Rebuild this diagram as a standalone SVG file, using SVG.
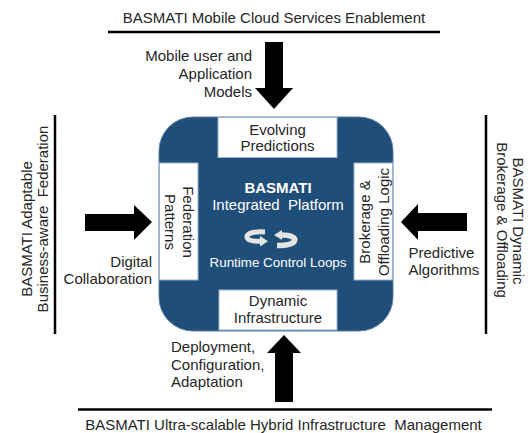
<svg xmlns="http://www.w3.org/2000/svg" width="531" height="433" viewBox="0 0 531 433">
<style>
  .t { font-family: "Liberation Sans", Arial, sans-serif; font-size: 15px; fill: #262626; }
  .w { font-family: "Liberation Sans", Arial, sans-serif; fill: #ffffff; }
  .box { fill: #ffffff; stroke: #9db3cc; stroke-width: 1; }
  .line { stroke: #000000; stroke-width: 2.5; fill: none; }
  .arrow { fill: #000000; }
  .loop { fill: none; stroke: #e4e4e4; stroke-linecap: butt; }
  .loophead { fill: #e4e4e4; }
</style>
<rect width="531" height="433" fill="#ffffff"/>

<g id="connectors">
  <line class="line" x1="108" y1="32" x2="440" y2="32"/>
  <line class="line" x1="78" y1="409.5" x2="492" y2="409.5"/>
  <line class="line" x1="55" y1="115" x2="55" y2="334"/>
  <line class="line" x1="486" y1="115" x2="486" y2="334"/>
  <polygon class="arrow" points="265,42 283,42 283,88 293,88 274,109 255,88 265,88"/>
  <polygon class="arrow" points="275,402 293,402 293,353 301,353 284,335 267,353 275,353"/>
  <polygon class="arrow" points="85,214 134,214 134,205 152,222 134,240 134,231 85,231"/>
  <polygon class="arrow" points="467,213 418,213 418,204 401,222 418,240 418,231 467,231"/>
</g>

<g id="platform">
  <rect x="159" y="117" width="234" height="214" rx="34" ry="34" fill="#1f4e79" stroke="#5a7ca3" stroke-width="1"/>
  <text class="w" x="278" y="193" text-anchor="middle" font-size="15" font-weight="bold" fill="#eeeeee">BASMATI</text>
  <text class="w" x="278" y="210" text-anchor="middle" font-size="15" fill="#dfe5ee" xml:space="preserve">Integrated  Platform</text>
  <text class="w" x="278" y="267" text-anchor="middle" font-size="13.4" fill="#e8ecf2">Runtime Control Loops</text>
  <g id="loops">
    <path class="loop" stroke-width="5" d="M 265 232 C 251 231, 245 234.5, 247.5 238.5 C 249.5 241, 254 241.5, 261 241.3"/>
    <polygon class="loophead" points="260,236 268,241.3 260,246.5"/>
    <path class="loop" stroke-width="5.5" d="M 281 235 C 291 235, 296 237.5, 294.5 241 C 293 244, 287 245.5, 277 245.5"/>
    <polygon class="loophead" points="282,230 274,235 282,240"/>
  </g>
</g>

<g id="evolving-predictions">
  <rect class="box" x="218" y="117.5" width="119" height="40"/>
  <text class="t" x="277.5" y="135" text-anchor="middle">Evolving</text>
  <text class="t" x="277.5" y="151" text-anchor="middle">Predictions</text>
</g>

<g id="dynamic-infrastructure">
  <rect class="box" x="219" y="290" width="118" height="40"/>
  <text class="t" x="278" y="306" text-anchor="middle">Dynamic</text>
  <text class="t" x="278" y="323" text-anchor="middle">Infrastructure</text>
</g>

<g id="federation-patterns">
  <rect class="box" x="159.5" y="163" width="38.5" height="117"/>
  <text class="t" text-anchor="middle" transform="translate(182.5,222) rotate(90)">Federation</text>
  <text class="t" text-anchor="middle" transform="translate(164.5,222) rotate(90)">Patterns</text>
</g>

<g id="brokerage-offloading">
  <rect class="box" x="354" y="163" width="38.5" height="117"/>
  <text class="t" text-anchor="middle" transform="translate(369.5,222) rotate(-90)">Brokerage &amp;</text>
  <text class="t" text-anchor="middle" transform="translate(388.5,222) rotate(-90)">Offloading Logic</text>
</g>

<g id="mobile-cloud-services">
  <text class="t" x="274" y="23" text-anchor="middle">BASMATI Mobile Cloud Services Enablement</text>
</g>

<g id="hybrid-infrastructure">
  <text class="t" x="283.5" y="430" text-anchor="middle" xml:space="preserve">BASMATI Ultra-scalable Hybrid Infrastructure  Management</text>
</g>

<g id="adaptable-federation">
  <text class="t" text-anchor="middle" transform="translate(31.5,229) rotate(-90)">BASMATI Adaptable</text>
  <text class="t" text-anchor="middle" transform="translate(47.5,219) rotate(-90)" xml:space="preserve">Business-aware  Federation</text>
</g>

<g id="dynamic-brokerage">
  <text class="t" text-anchor="middle" transform="translate(513,221) rotate(90)">BASMATI Dynamic</text>
  <text class="t" text-anchor="middle" transform="translate(497,220) rotate(90)">Brokerage &amp; Offloading</text>
</g>

<g id="label-mobile-models">
  <text class="t" x="252" y="61" text-anchor="end">Mobile user and</text>
  <text class="t" x="252" y="79" text-anchor="end">Application</text>
  <text class="t" x="252" y="97" text-anchor="end">Models</text>
</g>

<g id="label-digital-collaboration">
  <text class="t" x="152" y="267" text-anchor="end">Digital</text>
  <text class="t" x="152" y="284" text-anchor="end">Collaboration</text>
</g>

<g id="label-predictive-algorithms">
  <text class="t" x="408.5" y="258" text-anchor="start">Predictive</text>
  <text class="t" x="408.5" y="275" text-anchor="start">Algorithms</text>
</g>

<g id="label-deployment">
  <text class="t" x="171" y="352" text-anchor="start">Deployment,</text>
  <text class="t" x="171" y="370" text-anchor="start">Configuration,</text>
  <text class="t" x="171" y="387" text-anchor="start">Adaptation</text>
</g>
</svg>
